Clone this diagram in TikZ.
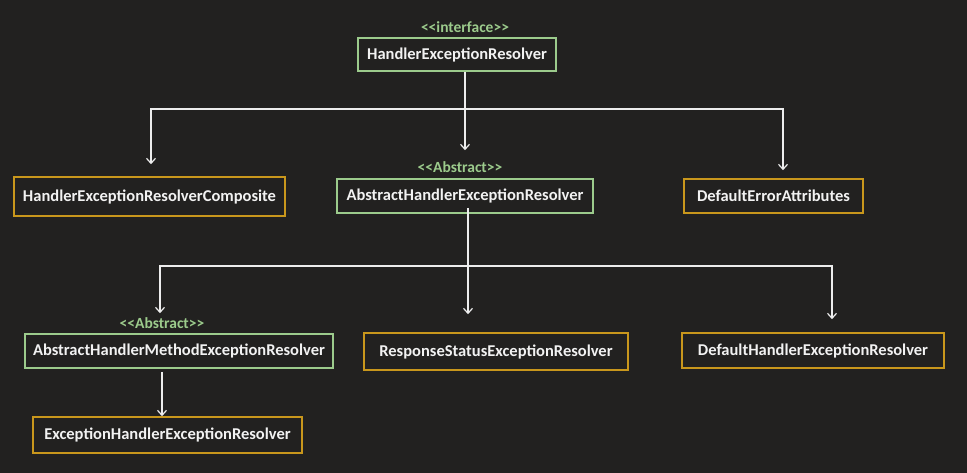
\documentclass[tikz,border=0pt]{standalone}
\usepackage{fontspec}
\setmainfont{Carlito}
\usetikzlibrary{arrows.meta}
\definecolor{bg}{HTML}{222120}
\definecolor{grn}{HTML}{9CCB8C}
\definecolor{gld}{HTML}{C9971C}
\definecolor{txt}{HTML}{F2F2F2}
\definecolor{lin}{HTML}{EDEDED}
\begin{document}
\begin{tikzpicture}[x=1pt,y=-1pt,
  box/.style={draw, line width=1.6pt, rectangle, inner sep=0pt, text=txt,
    font=\fontsize{16.5}{19}\selectfont\bfseries},
  gbox/.style={box, draw=grn},
  ybox/.style={box, draw=gld},
  stereo/.style={text=grn, font=\fontsize{15.5}{18}\selectfont\bfseries, inner sep=0pt},
  conn/.style={draw=lin, line width=1.3pt},
  arr/.style={conn, -{Straight Barb[length=5pt,width=9pt,line width=1.2pt]}}]
\fill[bg] (0,0) rectangle (967,473);
\useasboundingbox (0,0) rectangle (967,473);

% nodes
\node[gbox, minimum width=198pt, minimum height=33pt] (root) at (457,54.5) {HandlerExceptionResolver};
\node[stereo] (lint) at (465,27) {<{}<interface>{}>};

\node[ybox, minimum width=271pt, minimum height=39pt] (comp) at (149.5,196.5) {HandlerExceptionResolverComposite};
\node[gbox, minimum width=256pt, minimum height=34pt] (aher) at (465,196) {AbstractHandlerExceptionResolver};
\node[stereo] (labs1) at (460,167) {<{}<Abstract>{}>};
\node[ybox, minimum width=179pt, minimum height=34pt] (dea) at (773.5,196) {DefaultErrorAttributes};

\node[gbox, minimum width=308pt, minimum height=34pt] (ahmer) at (179,351) {AbstractHandlerMethodExceptionResolver};
\node[stereo] (labs2) at (162,323) {<{}<Abstract>{}>};
\node[ybox, minimum width=264pt, minimum height=37pt] (rser) at (496,351.5) {ResponseStatusExceptionResolver};
\node[ybox, minimum width=262pt, minimum height=35pt] (dher) at (813,350.5) {DefaultHandlerExceptionResolver};
\node[ybox, minimum width=269pt, minimum height=36pt] (eher) at (167.5,435) {ExceptionHandlerExceptionResolver};

% junctions
\coordinate (j1) at (465,109);
\coordinate (j2) at (468,266);

% first level
\draw[conn] (root.south -| j1) -- (j1);
\draw[conn] ([xshift=1.5pt]comp.north |- j1) -- ([xshift=9.5pt]dea.north |- j1);
\draw[arr, shorten >=12pt] (j1) -| ([xshift=1.5pt]comp.north);
\draw[arr, shorten >=28pt] (j1) -- (aher.north);
\draw[arr, shorten >=8pt] (j1) -| ([xshift=9.5pt]dea.north);

% second level
\draw[conn] ([yshift=6pt]aher.south -| j2) -- (j2);
\draw[conn] ([xshift=-19pt]ahmer.north |- j2) -- ([xshift=19pt]dher.north |- j2);
\draw[arr, shorten >=20pt] (j2) -| ([xshift=-19pt]ahmer.north);
\draw[arr, shorten >=18pt] (j2) -- (rser.north -| j2);
\draw[arr, shorten >=13pt] (j2) -| ([xshift=19pt]dher.north);

% third level
\draw[arr, shorten <=3pt] (ahmer.south -| 162,0) -- (eher.north -| 162,0);
\end{tikzpicture}
\end{document}
